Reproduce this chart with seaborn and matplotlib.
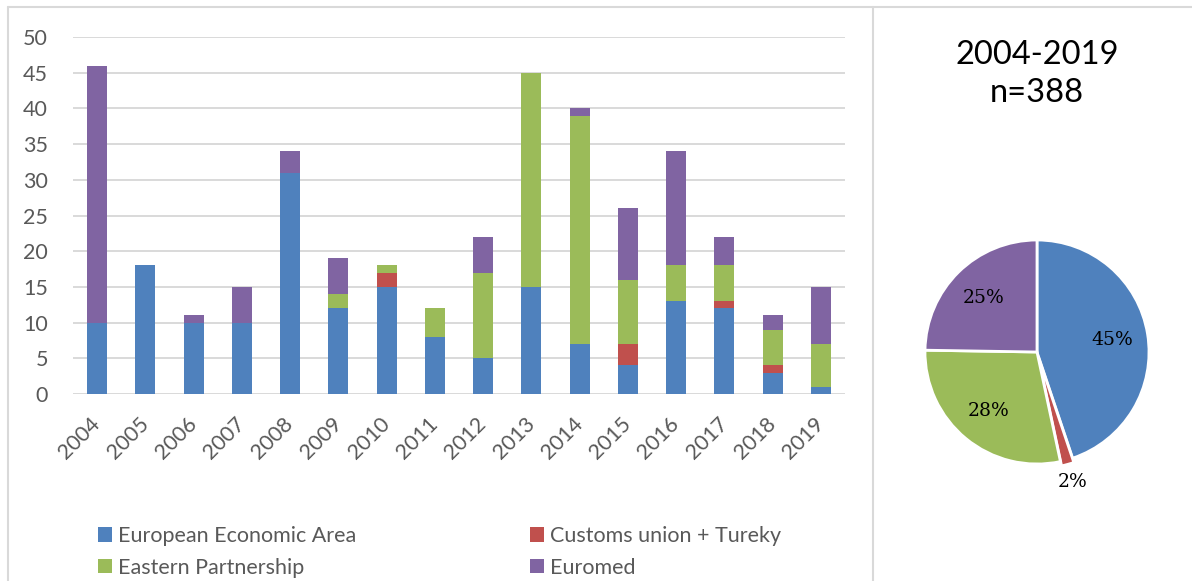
import numpy as np
import pandas as pd
import matplotlib.pyplot as plt
import seaborn as sns
from matplotlib.lines import Line2D
from matplotlib.patches import Patch

# Data
years = [str(y) for y in range(2004, 2020)]
eea = [10, 18, 10, 10, 31, 12, 15, 8, 5, 15, 7, 4, 13, 12, 3, 1]
customs = [0, 0, 0, 0, 0, 0, 2, 0, 0, 0, 0, 3, 0, 1, 1, 0]
eastern = [0, 0, 0, 0, 0, 2, 1, 4, 12, 30, 32, 9, 5, 5, 5, 6]
euromed = [36, 0, 1, 5, 3, 5, 0, 0, 5, 0, 1, 10, 16, 4, 2, 8]
series_names = ['European Economic Area', 'Customs union + Tureky',
                'Eastern Partnership', 'Euromed']
pie_labels = ['45%', '2%', '28%', '25%']
pie_title = '2004-2019\nn=388'

colors = ['#4f81bd', '#c0504d', '#9bbb59', '#8064a2']
grey = '#595959'
line_grey = '#d9d9d9'

sns.set_style('white')
plt.rcParams['font.family'] = ['Lato', 'DejaVu Sans']

df = pd.DataFrame({'year': years, 'eea': eea, 'customs': customs,
                   'eastern': eastern, 'euromed': euromed})
cols = ['eea', 'customs', 'eastern', 'euromed']
cum = df[cols].cumsum(axis=1)

fig = plt.figure(figsize=(11.92, 5.81), dpi=100)
ax = fig.add_axes([73 / 1192, 187 / 581, 772 / 1192, 357 / 581])

# stacked bars: draw cumulative totals from the top down
for col, c in reversed(list(zip(cols, colors))):
    sns.barplot(x=df['year'], y=cum[col], color=c, saturation=1,
                width=0.41, linewidth=0, ax=ax)

ax.set_ylim(0, 50)
ax.set_xlim(-0.5, len(years) - 0.5)
ax.set_yticks(np.arange(0, 51, 5))
ax.yaxis.grid(True, color=line_grey, linewidth=1.4)
ax.set_axisbelow(True)
for s in ax.spines.values():
    s.set_visible(False)
ax.set_xlabel('')
ax.set_ylabel('')
ax.tick_params(axis='both', length=0, labelcolor=grey, labelsize=15.5)
ax.tick_params(axis='y', pad=18)
ax.tick_params(axis='x', pad=19)
plt.setp(ax.get_xticklabels(), rotation=45, ha='right', va='center',
         rotation_mode='anchor')

# legend
handles = [Patch(facecolor=c, edgecolor='none') for c in colors]
order = [0, 2, 1, 3]
fig.legend([handles[i] for i in order], [series_names[i] for i in order],
           ncol=2, loc='upper left', bbox_to_anchor=(98 / 1192, 1 - 526 / 581),
           frameon=False, fontsize=15.5, labelcolor=grey, borderpad=0,
           borderaxespad=0, handlelength=0.65, handleheight=0.65,
           handletextpad=0.3, columnspacing=8.05, labelspacing=0.55)

# pie panel
pax = fig.add_axes([(1037 - 125) / 1192, (581 - 352 - 125) / 581,
                    250 / 1192, 250 / 581])
totals = [sum(eea), sum(customs), sum(eastern), sum(euromed)]
wedges, _ = pax.pie(totals, colors=colors, startangle=90, counterclock=False,
                    explode=[0, 0.04, 0, 0],
                    wedgeprops=dict(edgecolor='white', linewidth=2))
pax.set_xlim(-1.116, 1.116)
pax.set_ylim(-1.116, 1.116)
pax.axis('off')
share = np.array(totals) / sum(totals)
for w, lab, p in zip(wedges, pie_labels, share):
    ang = np.deg2rad((w.theta1 + w.theta2) / 2)
    r = 1.2 if p < 0.05 else 0.68
    pax.text(r * np.cos(ang), r * np.sin(ang), lab, ha='center', va='center',
             family=['DejaVu Serif'], fontsize=13.5, color='black')

fig.text(1037 / 1192, 1 - 74 / 581, pie_title, ha='center', va='center',
         fontsize=23.5, linespacing=1.32, color='black')

# chart frame lines
fig.add_artist(Line2D([8 / 1192, 1], [1 - 7 / 581] * 2, color=line_grey,
                      linewidth=1.5, transform=fig.transFigure))
fig.add_artist(Line2D([8 / 1192] * 2, [0, 1 - 7 / 581], color=line_grey,
                      linewidth=1.5, transform=fig.transFigure))
fig.add_artist(Line2D([873 / 1192] * 2, [0, 1 - 7 / 581], color=line_grey,
                      linewidth=1.5, transform=fig.transFigure))

fig.savefig('out.png', dpi=100)
plt.close(fig)
